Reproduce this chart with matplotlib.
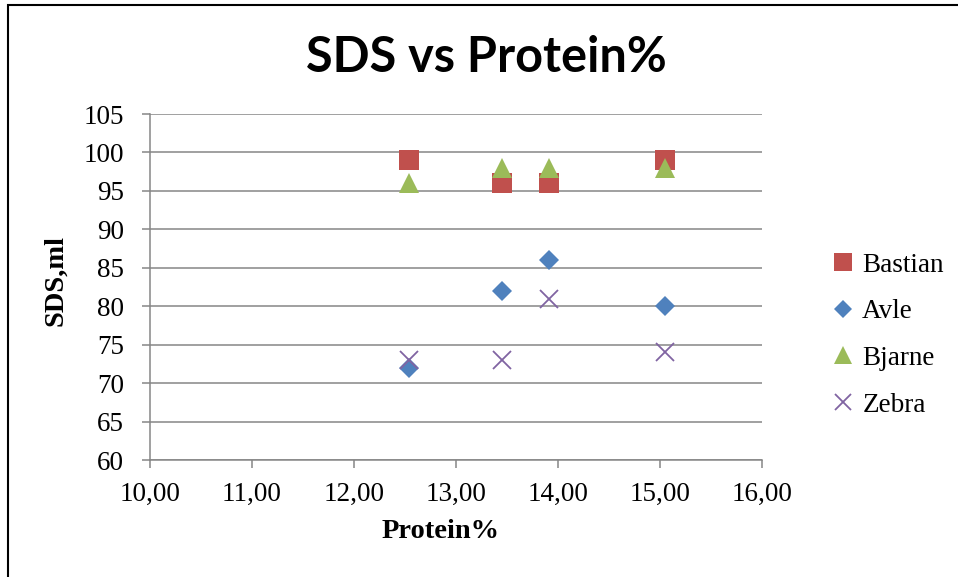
import matplotlib.pyplot as plt
from matplotlib.patches import Rectangle
from matplotlib.ticker import FuncFormatter

protein = [12.54, 13.45, 13.91, 15.05]
bastian = [99, 96, 96, 99]
avle = [72, 82, 86, 80]
bjarne = [96, 98, 98, 98]
zebra = [73, 73, 81, 74]

names = ["Bastian", "Avle", "Bjarne", "Zebra"]
colors = ["#C0504D", "#4F81BD", "#9BBB59", "#8064A2"]
markers = ["s", "D", "^", "x"]
sizes = [14, 10, 14, 13]

plt.rcParams["font.family"] = ["Liberation Serif", "DejaVu Serif"]

fig = plt.figure(figsize=(9.58, 5.77), dpi=100)
ax = fig.add_axes([150 / 958, 1 - 460 / 577, 612 / 958, 346 / 577])

for vals, name, c, m, s in zip([bastian, avle, bjarne, zebra], names, colors, markers, sizes):
    if m == "x":
        ax.plot(protein, vals, ls="none", marker=m, ms=s, mew=1.3, color=c, label=name, zorder=3)
    else:
        ax.plot(protein, vals, ls="none", marker=m, ms=s, mew=0, color=c, label=name, zorder=3)

ax.set_xlim(10, 16)
ax.set_ylim(60, 105)
ax.set_xticks(range(10, 17))
ax.set_yticks(range(60, 106, 5))
ax.xaxis.set_major_formatter(FuncFormatter(lambda v, p: f"{v:.2f}".replace(".", ",")))
ax.grid(axis="y", color="#868686", lw=1.1)
ax.set_axisbelow(True)
for sp in ["top", "right"]:
    ax.spines[sp].set_visible(False)
for sp in ["left", "bottom"]:
    ax.spines[sp].set_color("#868686")
    ax.spines[sp].set_linewidth(1.1)
ax.tick_params(direction="out", length=5.5, color="#868686", width=1.1, labelsize=19.5)
ax.tick_params(axis="x", pad=10)
ax.tick_params(axis="y", pad=13)

fig.text(486 / 958, 1 - 58 / 577, "SDS vs Protein%", fontsize=35, fontweight="bold",
         family=["Lato", "DejaVu Sans"], ha="center", va="center")
fig.text(441 / 958, 1 - 532 / 577, "Protein%", fontsize=20.5, fontweight="bold",
         ha="center", va="center")
fig.text(56 / 958, 1 - 280 / 577, "SDS,ml", fontsize=20.5, fontweight="bold",
         ha="center", va="center", rotation=90)

ax.legend(loc="center left", bbox_to_anchor=(827 / 958, 1 - 335 / 577), bbox_transform=fig.transFigure,
          frameon=False, fontsize=19.5, handletextpad=0.1, labelspacing=0.8, markerscale=0.9,
          handlelength=1.2, borderpad=0, borderaxespad=0)

fig.add_artist(Rectangle((8 / 958, -0.05), 1.0, 1 - 5 / 577 + 0.05, transform=fig.transFigure,
                         fill=False, ec="black", lw=1.5))

fig.savefig("out.png", dpi=100)
